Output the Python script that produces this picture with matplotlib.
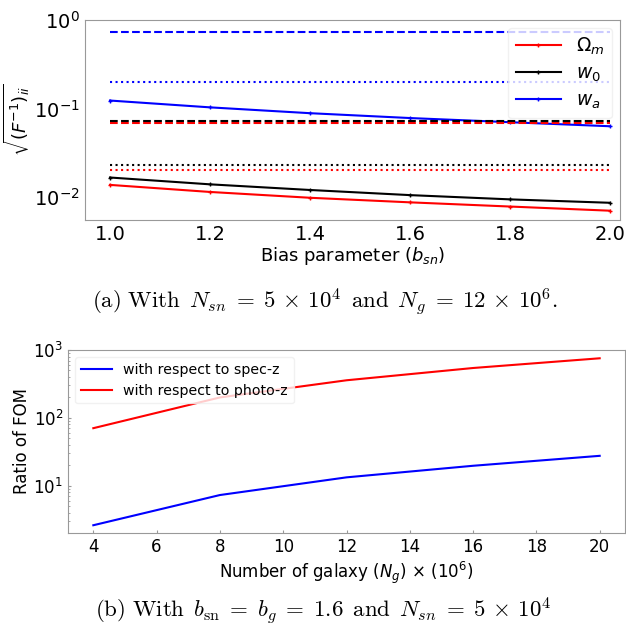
import matplotlib
matplotlib.use("Agg")
import matplotlib.pyplot as plt
import numpy as np

# ---- data: panel (a)
bias = [1.0, 1.2, 1.4, 1.6, 1.8, 2.0]
om_solid = [0.0137, 0.0114, 0.0098, 0.0087, 0.0078, 0.0070]
w0_solid = [0.0166, 0.0139, 0.0120, 0.0105, 0.0094, 0.0086]
wa_solid = [0.123, 0.103, 0.0885, 0.078, 0.070, 0.063]
om_dashed = [0.0693] * 6
w0_dashed = [0.0718] * 6
wa_dashed = [0.73] * 6
om_dotted = [0.0203] * 6
w0_dotted = [0.0231] * 6
wa_dotted = [0.20] * 6

# ---- data: panel (b)
ngal = [4, 8, 12, 16, 20]
ratio_spec = [2.62, 7.3, 13.3, 19.7, 27.6]
ratio_photo = [70.5, 200, 358, 543, 755]

plt.rcParams['mathtext.fontset'] = 'dejavusans'

fig = plt.figure(figsize=(6.26, 6.29), dpi=100)

spine_col = '#999999'

# ---------- panel (a)
ax1 = fig.add_axes([85/626, 1-220/629, 535/626, 200/629])
ax1.plot(bias, om_solid, color='red', lw=1.5, marker='+', ms=3, label=r'$\Omega_m$')
ax1.plot(bias, w0_solid, color='black', lw=1.5, marker='+', ms=3, label=r'$w_0$')
ax1.plot(bias, wa_solid, color='blue', lw=1.5, marker='+', ms=3, label=r'$w_a$')
ax1.plot(bias, om_dashed, color='red', lw=1.5, ls='--')
ax1.plot(bias, w0_dashed, color='black', lw=1.5, ls='--')
ax1.plot(bias, wa_dashed, color='blue', lw=1.5, ls='--')
ax1.plot(bias, om_dotted, color='red', lw=1.5, ls=':')
ax1.plot(bias, w0_dotted, color='black', lw=1.5, ls=':')
ax1.plot(bias, wa_dotted, color='blue', lw=1.5, ls=':')
ax1.set_yscale('log')
ax1.set_xlim(0.95, 2.02)
ax1.set_ylim(10**(-2.26), 1.0)
ax1.set_xticks([1.0, 1.2, 1.4, 1.6, 1.8, 2.0])
ax1.set_xticklabels(['1.0', '1.2', '1.4', '1.6', '1.8', '2.0'])
ax1.tick_params(labelsize=14, length=0, which='both', colors=spine_col, labelcolor='black')
ax1.set_xlabel(r'Bias parameter ($b_{sn}$)', fontsize=13, labelpad=1)
ax1.set_ylabel(r'$\sqrt{(F^{-1})_{ii}}$', fontsize=13, labelpad=2)
for s in ax1.spines.values():
    s.set_color(spine_col)
leg1 = ax1.legend(loc='upper right', fontsize=13.5, frameon=True, borderaxespad=0.45,
                  handlelength=2.4, labelspacing=0.35, borderpad=0.4)
leg1.get_frame().set_edgecolor('#eeeeee')

# ---------- panel (b)
ax2 = fig.add_axes([68/626, 1-533/629, 557/626, 183/629])
ax2.plot(ngal, ratio_spec, color='blue', lw=1.5, label='with respect to spec-z')
ax2.plot(ngal, ratio_photo, color='red', lw=1.5, label='with respect to photo-z')
ax2.set_yscale('log')
ax2.set_xlim(3.2, 20.8)
ax2.set_ylim(10**0.304, 1000)
ax2.set_xticks([4, 6, 8, 10, 12, 14, 16, 18, 20])
ax2.tick_params(labelsize=12, length=2, which='major', colors=spine_col, labelcolor='black', direction='in')
ax2.tick_params(which='minor', length=1.5, colors=spine_col, direction='in')
ax2.set_xlabel(r'Number of galaxy ($N_g$) $\times$ ($10^6$)', fontsize=12, labelpad=3)
ax2.set_ylabel('Ratio of FOM', fontsize=12, labelpad=2)
for s in ax2.spines.values():
    s.set_color(spine_col)
leg2 = ax2.legend(loc='upper left', fontsize=10.2, frameon=True, handlelength=2.2)
leg2.get_frame().set_edgecolor('#eeeeee')

# ---------- captions
capA = (r'$\mathrm{(a)\ With\ \,}N_{sn}\;=\;5\,\times\,10^4\mathrm{\ \,and\ \,}'
        r'N_g\;=\;12\,\times\,10^6\mathrm{.}$')
capB = (r'$\mathrm{(b)\ With\ \,}b_{\mathrm{sn}}\;=\;b_g\;=\;1.6\mathrm{\ \,and\ \,}'
        r'N_{sn}\;=\;5\,\times\,10^4$')
fig.text(325/626, 1-302/629, capA, ha='center', va='center', fontsize=16.5,
         math_fontfamily='cm')
fig.text(323/626, 1-611/629, capB, ha='center', va='center', fontsize=16.5,
         math_fontfamily='cm')

fig.savefig('out.png', dpi=100)
